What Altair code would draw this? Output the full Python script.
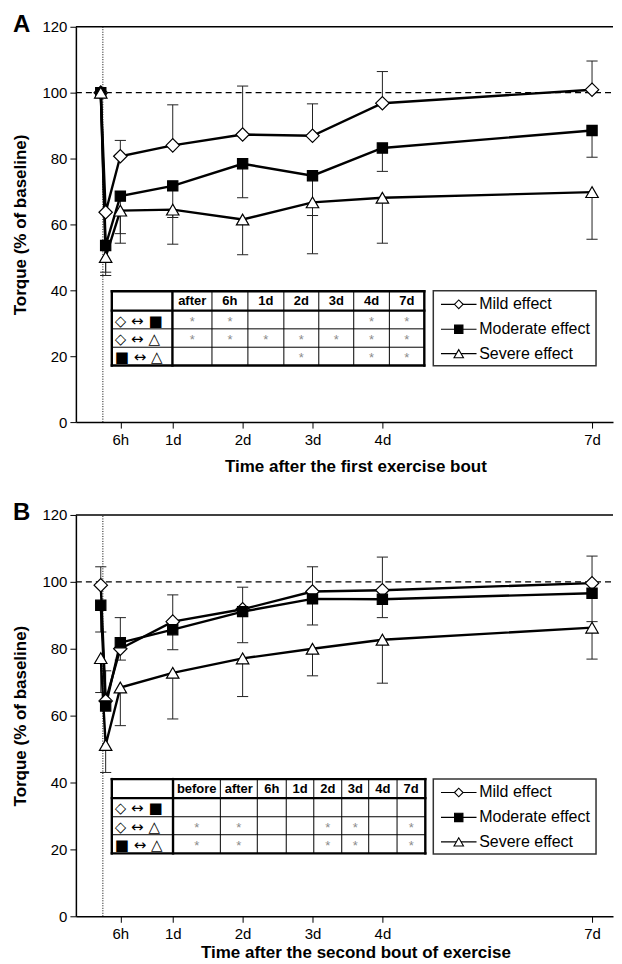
import altair as alt
import pandas as pd

FONT = "Liberation Sans"
SYM_FONT = "DejaVu Sans"

# ---------------- data ----------------
time_pts = [-0.03, 0.04, 0.25, 1, 2, 3, 4, 7]
series_names = ["Mild effect", "Moderate effect", "Severe effect"]
x_tick_values = [0.25, 1, 2, 3, 4, 7]
x_tick_labels = ["6h", "1d", "2d", "3d", "4d", "7d"]
y_tick_values = [0, 20, 40, 60, 80, 100, 120]

a_mild = [100, 63.7, 80.7, 84.0, 87.3, 86.9, 96.8, 100.9]
a_mild_err = [None, None, 85.5, 96.3, 102.0, 96.6, 106.4, 109.6]
a_moderate = [100, 53.6, 68.6, 71.7, 78.4, 74.8, 83.2, 88.5]
a_moderate_err = [None, 45.5, 57.2, 62.1, 68.1, 62.7, 76.1, 80.4]
a_severe = [100, 50.1, 64.2, 64.5, 61.5, 66.7, 68.1, 69.8]
a_severe_err = [None, 44.5, 54.3, 54.0, 50.8, 51.1, 54.3, 55.5]

b_mild = [99.0, 64.4, 80.0, 88.1, 91.8, 97.1, 97.5, 99.6]
b_mild_err = [104.5, 73.4, 89.3, 96.1, 98.4, 104.5, 107.4, 107.7]
b_moderate = [93.0, 62.9, 81.8, 85.7, 91.1, 94.9, 94.8, 96.6]
b_moderate_err = [85.0, None, 76.6, 79.7, 81.8, 87.1, 89.3, 88.1]
b_severe = [77.2, 51.2, 68.4, 72.8, 77.1, 80.0, 82.7, 86.3]
b_severe_err = [66.9, 43.0, 57.0, 59.0, 65.7, 71.9, 69.7, 76.9]

pair_labels = ["\u25c7 \u2194 \u25a0", "\u25c7 \u2194 \u25b3", "\u25a0 \u2194 \u25b3"]
a_table_cols = ["after", "6h", "1d", "2d", "3d", "4d", "7d"]
a_table_sig = [[1, 1, 0, 0, 0, 1, 1],
               [1, 1, 1, 1, 1, 1, 1],
               [0, 0, 0, 1, 0, 1, 1]]
b_table_cols = ["before", "after", "6h", "1d", "2d", "3d", "4d", "7d"]
b_table_sig = [[0, 0, 0, 0, 0, 0, 0, 0],
               [1, 1, 0, 0, 1, 1, 0, 1],
               [1, 1, 0, 0, 1, 1, 0, 1]]

# ---------------- styles / layout (pixels, relative to plot area) ----------------
MARKERS = [("diamond", "white", 180, 75), ("square", "black", 105, 70),
           ("triangle-up", "white", 155, 90)]
A_COL_EDGES = [36, 96.7, 136.3, 172.3, 208.3, 243.3, 278.3, 314, 349]
A_ROW_EDGES = [265, 284.3, 302.6, 321, 339.3]
B_COL_EDGES = [36, 97.3, 144.7, 181.7, 210.7, 238.3, 266.3, 293.3, 321.7, 350]
B_ROW_EDGES = [264.6, 283.6, 302.3, 320.3, 339]
LEG_BOX = (358, 521, 264.5, 339.5)
LEG_YS = [278, 303, 327.5]
LEG_LINE = (365.7, 401.3)
LEG_TEXT_X = 404

WIDTH = 538
X_DOMAIN = [-0.386, 7.3]
Y_DOMAIN = [0, 120]

label_expr = ""
for v, l in zip(x_tick_values, x_tick_labels):
    label_expr += f"datum.value == {v} ? '{l}' : "
label_expr += "''"


def panel(letter, vals, errs, cols, sig, col_edges, row_edges, height, xtitle,
          xtitle_pad):
    def dx(p):
        return X_DOMAIN[0] + p / WIDTH * (X_DOMAIN[1] - X_DOMAIN[0])

    def dy(p):
        return Y_DOMAIN[1] - p / height * (Y_DOMAIN[1] - Y_DOMAIN[0])

    xscale = alt.Scale(domain=X_DOMAIN, nice=False, zero=False)
    yscale = alt.Scale(domain=Y_DOMAIN, nice=False, zero=True)
    x_axis = alt.Axis(values=x_tick_values, labelExpr=label_expr, grid=False,
                      tickSize=6, labelPadding=4, titlePadding=xtitle_pad, titleX=280)
    y_axis = alt.Axis(values=y_tick_values, grid=False, tickSize=6,
                      labelPadding=3, titlePadding=12)
    ytitle = "Torque (% of baseline)"

    def X(f):
        return alt.X(f, type="quantitative", scale=xscale, axis=x_axis, title=xtitle)

    def Y(f):
        return alt.Y(f, type="quantitative", scale=yscale, axis=y_axis, title=ytitle)

    recs = []
    for s, v, e in zip(series_names, vals, errs):
        for t, vv, ee in zip(time_pts, v, e):
            recs.append({"t": t, "v": vv, "s": s})
    df = pd.DataFrame(recs)

    erecs = []
    for s, v, e in zip(series_names, vals, errs):
        for t, vv, ee in zip(time_pts, v, e):
            if ee is not None:
                erecs.append({"t": t, "v": vv, "e": ee, "tl": t - 0.08, "tr": t + 0.08})
    edf = pd.DataFrame(erecs)

    frame_df = pd.DataFrame([{"x": X_DOMAIN[0], "x2": X_DOMAIN[1], "y": 120, "y2": 120}])
    dash_df = pd.DataFrame([{"x": X_DOMAIN[0], "x2": X_DOMAIN[1], "y": 100, "y2": 100}])
    dot_df = pd.DataFrame([{"x": 0, "x2": 0, "y": 0, "y2": 120}])
    # invisible anchor that reserves the page margin at the top-left
    anchor_df = pd.DataFrame([{"x": dx(-68), "x2": dx(-66), "y": dy(-17.5), "y2": dy(-16)}])

    anchor = alt.Chart(anchor_df).mark_rule(strokeOpacity=0, opacity=0,
                                            strokeWidth=0.1).encode(
        x=X("x"), x2="x2:Q", y=Y("y"), y2="y2:Q")
    dotted = alt.Chart(dot_df).mark_rule(color="black", strokeWidth=1,
                                         strokeDash=[1, 1.5]).encode(
        x=X("x"), x2="x2:Q", y=Y("y"), y2="y2:Q")
    top_rule = alt.Chart(frame_df).mark_rule(color="black", strokeWidth=1.5).encode(
        x=X("x"), x2="x2:Q", y=Y("y"), y2="y2:Q")
    dash = alt.Chart(dash_df).mark_rule(color="black", strokeWidth=1.3,
                                        strokeDash=[6, 4]).encode(
        x=X("x"), x2="x2:Q", y=Y("y"), y2="y2:Q")

    errbar = alt.Chart(edf).mark_rule(color="#222", strokeWidth=1).encode(
        x=X("t"), y=Y("v"), y2="e:Q")
    caps = alt.Chart(edf).mark_rule(color="#222", strokeWidth=1).encode(
        x=X("tl"), x2="tr:Q", y=Y("e"), y2="e:Q")

    lines = alt.Chart(df).mark_line(color="black", strokeWidth=2.4).encode(
        x=X("t"), y=Y("v"), detail="s:N")

    point_layers = []
    for s, (shape, fill, size, _) in zip(series_names, MARKERS):
        point_layers.append(
            alt.Chart(df).transform_filter(alt.datum.s == s).mark_point(
                shape=shape, filled=True, fill=fill, stroke="black",
                strokeWidth=1.2, size=size, opacity=1, fillOpacity=1).encode(
                x=X("t"), y=Y("v")))

    # ----- table -----
    x0, x1 = col_edges[0], col_edges[-1]
    y0, y1 = row_edges[0], row_edges[-1]
    thick, thin = [], []
    for i, yy in enumerate(row_edges):
        rec = {"x": dx(x0), "x2": dx(x1), "y": dy(yy), "y2": dy(yy)}
        (thick if i in (0, 1, len(row_edges) - 1) else thin).append(rec)
    for j, xx in enumerate(col_edges):
        rec = {"x": dx(xx), "x2": dx(xx), "y": dy(y0), "y2": dy(y1)}
        (thick if j in (0, 1, len(col_edges) - 1) else thin).append(rec)
    thick_lines = alt.Chart(pd.DataFrame(thick)).mark_rule(
        color="black", strokeWidth=2.4, strokeCap="square").encode(
        x=X("x"), x2="x2:Q", y=Y("y"), y2="y2:Q")
    thin_lines = alt.Chart(pd.DataFrame(thin)).mark_rule(
        color="black", strokeWidth=1).encode(
        x=X("x"), x2="x2:Q", y=Y("y"), y2="y2:Q")

    heads = [{"x": dx((col_edges[j + 1] + col_edges[j + 2]) / 2),
              "y": dy((row_edges[0] + row_edges[1]) / 2), "txt": c}
             for j, c in enumerate(cols)]
    head_text = alt.Chart(pd.DataFrame(heads)).mark_text(
        font=FONT, fontSize=13, fontWeight="bold", color="black",
        baseline="middle", align="center").encode(
        x=X("x"), y=Y("y"), text="txt:N")

    rl = [{"x": dx(col_edges[0] + 3),
           "y": dy((row_edges[i + 1] + row_edges[i + 2]) / 2 + 1),
           "txt": lab} for i, lab in enumerate(pair_labels)]
    row_text = alt.Chart(pd.DataFrame(rl)).mark_text(
        font=SYM_FONT, fontSize=15, color="black", baseline="middle",
        align="left").encode(x=X("x"), y=Y("y"), text="txt:N")

    stars = []
    for i, row in enumerate(sig):
        for j, flag in enumerate(row):
            if flag:
                stars.append({"x": dx((col_edges[j + 1] + col_edges[j + 2]) / 2),
                              "y": dy((row_edges[i + 1] + row_edges[i + 2]) / 2 + 2),
                              "txt": "*"})
    layers_extra = []
    if stars:
        layers_extra.append(alt.Chart(pd.DataFrame(stars)).mark_text(
            font=FONT, fontSize=13, color="#8a8a8a", baseline="middle",
            align="center").encode(x=X("x"), y=Y("y"), text="txt:N"))

    # ----- legend -----
    lx0, lx1, ly0, ly1 = LEG_BOX
    leg_box = alt.Chart(pd.DataFrame([{"x": dx(lx0), "x2": dx(lx1),
                                       "y": dy(ly0), "y2": dy(ly1)}])).mark_rect(
        fill="white", stroke="#333", strokeWidth=1.5).encode(
        x=X("x"), x2="x2:Q", y=Y("y"), y2="y2:Q")
    leg_df = pd.DataFrame([{"s": s, "y": dy(yy), "xa": dx(LEG_LINE[0]),
                            "xb": dx(LEG_LINE[1]),
                            "xm": dx((LEG_LINE[0] + LEG_LINE[1]) / 2),
                            "xt": dx(LEG_TEXT_X)}
                           for s, yy in zip(series_names, LEG_YS)])
    leg_lines = alt.Chart(leg_df).mark_rule(color="black", strokeWidth=1.2).encode(
        x=X("xa"), x2="xb:Q", y=Y("y"), y2="y:Q")
    leg_pts = []
    for s, (shape, fill, _, lsize) in zip(series_names, MARKERS):
        leg_pts.append(alt.Chart(leg_df).transform_filter(alt.datum.s == s).mark_point(
            shape=shape, filled=True, fill=fill, stroke="black", strokeWidth=1.1,
            size=lsize, opacity=1, fillOpacity=1).encode(x=X("xm"), y=Y("y")))
    leg_text = alt.Chart(leg_df).mark_text(
        font=FONT, fontSize=16, color="black", baseline="middle", align="left").encode(
        x=X("xt"), y=Y("y"), text="s:N")

    letter_df = pd.DataFrame([{"x": dx(-63), "y": dy(-2), "txt": letter}])
    letter_mark = alt.Chart(letter_df).mark_text(
        font=FONT, fontSize=24, fontWeight="bold", color="black",
        align="left", baseline="middle").encode(x=X("x"), y=Y("y"), text="txt:N")

    return alt.layer(anchor, dotted, dash, top_rule, errbar, caps, lines, *point_layers,
                     thin_lines, thick_lines, head_text, row_text, *layers_extra,
                     leg_box, leg_lines, *leg_pts, leg_text,
                     letter_mark).properties(width=WIDTH, height=height)


panel_a = panel("A", [a_mild, a_moderate, a_severe],
                [a_mild_err, a_moderate_err, a_severe_err],
                a_table_cols, a_table_sig, A_COL_EDGES, A_ROW_EDGES, 396,
                "Time after the first exercise bout", 11)
panel_b = panel("B", [b_mild, b_moderate, b_severe],
                [b_mild_err, b_moderate_err, b_severe_err],
                b_table_cols, b_table_sig, B_COL_EDGES, B_ROW_EDGES, 402,
                "Time after the second bout of exercise", 3)

chart = alt.vconcat(panel_a, panel_b, spacing=23).properties(
    padding=0, background="white"
).configure_view(stroke=None).configure_axis(
    labelFont=FONT, titleFont=FONT, labelFontSize=15, titleFontSize=17,
    titleFontWeight="bold", labelColor="black", titleColor="black",
    domainColor="black", domainWidth=1.5, tickColor="black", tickWidth=1
)

chart.save("out.html", embed_options={"renderer": "svg", "actions": False})
